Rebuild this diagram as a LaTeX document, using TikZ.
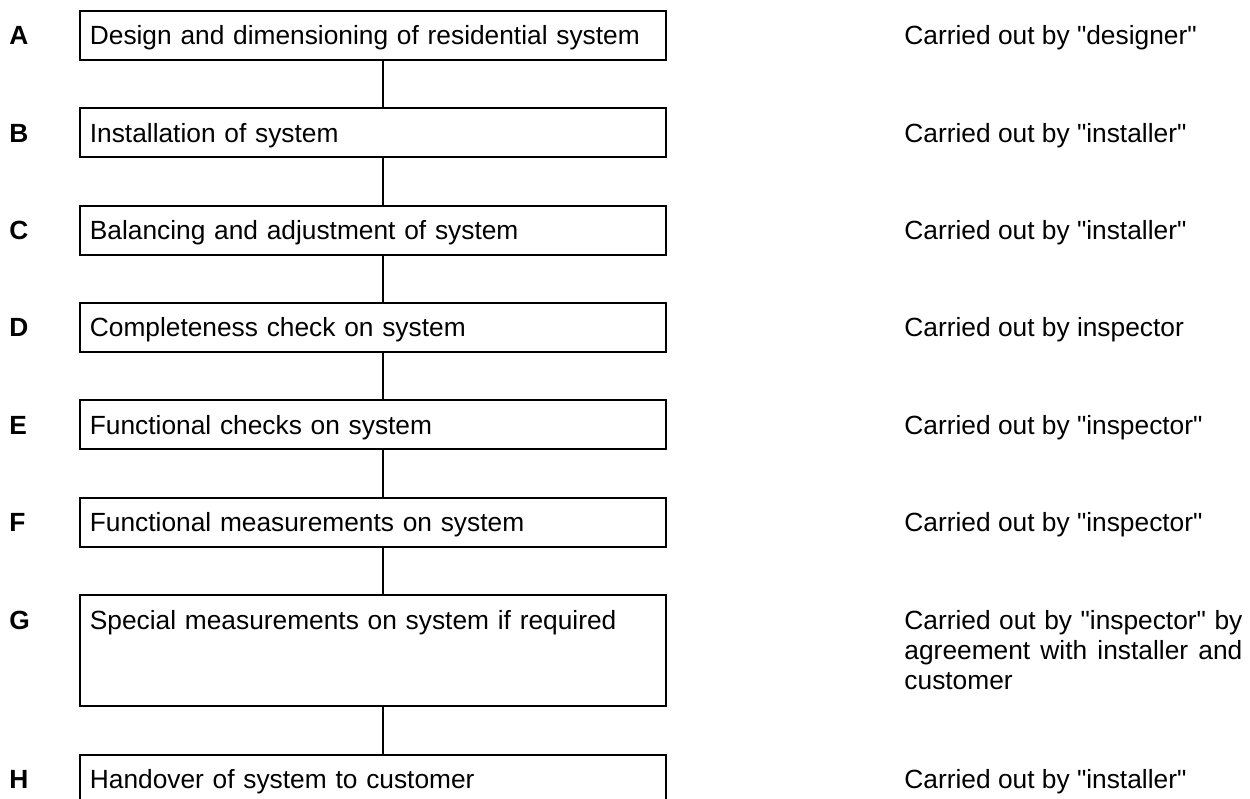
\documentclass[tikz,border=0pt]{standalone}
\usepackage{fontspec}
\setmainfont{Liberation Sans}[Ligatures=TeXOff]
\usetikzlibrary{positioning}
\tikzset{node distance=17.7pt,
         every node/.style={font=\fontsize{10pt}{11.4pt}\selectfont},
         stage/.style={draw, line width=0.7pt, text width=215.1pt, align=left,
                       inner xsep=3.8pt, inner ysep=0pt,
                       text height=12.9pt, text depth=5.7pt},
         tag/.style={font=\fontsize{10pt}{11.4pt}\selectfont\bfseries, inner sep=0pt, anchor=base west},
         who/.style={inner sep=0pt, anchor=base west},
         link/.style={line width=0.7pt},
         }

\begin{document}
\begin{tikzpicture}
    \useasboundingbox (0,0) rectangle (475pt,-303.6pt);

    % steps
    \node[stage, anchor=north west] (a) at (30pt,-3.8pt) {Design and dimensioning of residential system};
    \node[stage, below=of a] (b) {Installation of system};
    \node[stage, below=of b] (c) {Balancing and adjustment of system};
    \node[stage, below=of c] (d) {Completeness check on system};
    \node[stage, below=of d] (e) {Functional checks on system};
    \node[stage, below=of e] (f) {Functional measurements on system};
    \node[stage, below=of f, text depth=29.3pt] (g) {Special measurements on system if required};
    \node[stage, below=of g] (h) {Handover of system to customer};

    % letters
    \node[tag] (la) at ([xshift=-26.6pt]a.base west) {A};
    \node[tag] (lb) at ([xshift=-26.6pt]b.base west) {B};
    \node[tag] (lc) at ([xshift=-26.6pt]c.base west) {C};
    \node[tag] (ld) at ([xshift=-26.6pt]d.base west) {D};
    \node[tag] (le) at ([xshift=-26.6pt]e.base west) {E};
    \node[tag] (lf) at ([xshift=-26.6pt]f.base west) {F};
    \node[tag] (lg) at ([xshift=-26.6pt]g.base west) {G};
    \node[tag] (lh) at ([xshift=-26.6pt]h.base west) {H};

    % who does it
    \node[who] (wa) at ([xshift=90.1pt]a.base east) {Carried out by "designer"};
    \node[who] (wb) at ([xshift=90.1pt]b.base east) {Carried out by "installer"};
    \node[who] (wc) at ([xshift=90.1pt]c.base east) {Carried out by "installer"};
    \node[who] (wd) at ([xshift=90.1pt]d.base east) {Carried out by inspector};
    \node[who] (we) at ([xshift=90.1pt]e.base east) {Carried out by "inspector"};
    \node[who] (wf) at ([xshift=90.1pt]f.base east) {Carried out by "inspector"};
    \node[who, text width=128.4pt, align=justify] (wg) at ([xshift=90.1pt]g.base east)
        {Carried out by "inspector" by agreement with installer and customer};
    \node[who] (wh) at ([xshift=90.1pt]h.base east) {Carried out by "installer"};

    \draw[link] ([xshift=3.8pt]a.south) -- ([xshift=3.8pt]b.north)
                ([xshift=3.8pt]b.south) -- ([xshift=3.8pt]c.north)
                ([xshift=3.8pt]c.south) -- ([xshift=3.8pt]d.north)
                ([xshift=3.8pt]d.south) -- ([xshift=3.8pt]e.north)
                ([xshift=3.8pt]e.south) -- ([xshift=3.8pt]f.north)
                ([xshift=3.8pt]f.south) -- ([xshift=3.8pt]g.north)
                ([xshift=3.8pt]g.south) -- ([xshift=3.8pt]h.north);
\end{tikzpicture}
\end{document}
